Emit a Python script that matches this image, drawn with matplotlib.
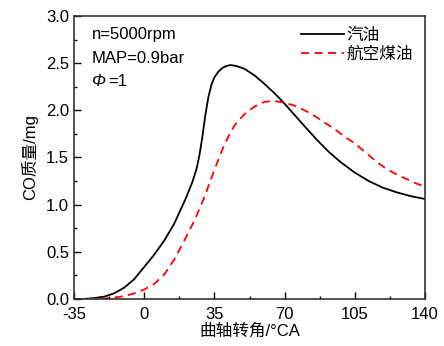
import matplotlib
matplotlib.use('Agg')
import matplotlib.pyplot as plt
from matplotlib.ticker import MultipleLocator, FormatStrFormatter

plt.rcParams['font.family'] = ['Liberation Sans', 'Noto Sans CJK SC']
plt.rcParams['axes.unicode_minus'] = False

# 曲轴转角 / CO质量
x_gas = [-35, -30, -25, -20, -15, -10, -5, 0, 5, 10, 15, 18, 21, 24, 26, 27.5, 29, 30.5,
         32, 33.5, 35, 37, 39, 41, 43, 46, 50, 55, 60, 65, 70, 75, 80, 86, 92, 98, 105,
         112, 119, 126, 133, 140]
y_gas = [0, 0.0, 0.01, 0.025, 0.06, 0.12, 0.21, 0.34, 0.47, 0.62, 0.8, 0.94, 1.08, 1.24,
         1.37, 1.52, 1.72, 1.95, 2.14, 2.27, 2.35, 2.41, 2.45, 2.47, 2.48, 2.47, 2.44, 2.37,
         2.28, 2.18, 2.07, 1.95, 1.83, 1.69, 1.56, 1.45, 1.34, 1.25, 1.18, 1.13, 1.09, 1.06]

x_kero = [-35, -30, -25, -20, -15, -10, -5, 0, 5, 10, 15, 20, 25, 30, 35, 40, 45, 50, 55,
          60, 65, 70, 75, 80, 85, 90, 95, 100, 105, 110, 115, 120, 125, 130, 135, 140]
y_kero = [0, 0.0, 0.0, 0.005, 0.015, 0.03, 0.06, 0.10, 0.16, 0.26, 0.42, 0.62, 0.83, 1.08,
          1.37, 1.64, 1.84, 1.96, 2.04, 2.09, 2.10, 2.08, 2.05, 2.00, 1.94, 1.87, 1.80, 1.72,
          1.65, 1.56, 1.47, 1.39, 1.33, 1.28, 1.23, 1.19]

labels = ['汽油', '航空煤油']
xticks = [-35, 0, 35, 70, 105, 140]

fig = plt.figure(figsize=(4.44, 3.46), dpi=100)
ax = fig.add_axes([0.1667, 0.1358, 0.7905, 0.818])

ax.plot(x_gas, y_gas, color='black', lw=1.3, label=labels[0])
ax.plot(x_kero, y_kero, color='red', lw=1.3, ls=(0, (4.5, 3)), label=labels[1])

ax.set_xlim(-35, 140)
ax.set_ylim(0, 3.0)
ax.set_xticks(xticks)
ax.xaxis.set_minor_locator(MultipleLocator(17.5))
ax.yaxis.set_major_locator(MultipleLocator(0.5))
ax.yaxis.set_minor_locator(MultipleLocator(0.25))
ax.yaxis.set_major_formatter(FormatStrFormatter('%.1f'))
ax.tick_params(which='both', direction='in', labelsize=12, width=1)
ax.tick_params(which='major', length=5)
ax.tick_params(axis='x', which='major', pad=6)
ax.tick_params(which='minor', length=2.5)
for s in ax.spines.values():
    s.set_linewidth(1.2)
    s.set_color('#333333')

ax.set_xlabel('曲轴转角/°CA', fontsize=12, labelpad=1)
ax.set_ylabel('CO质量/mg', fontsize=12, labelpad=6)

ax.text(0.05, 0.935, 'n=5000rpm', transform=ax.transAxes, fontsize=12, va='center')
ax.text(0.05, 0.85, 'MAP=0.9bar', transform=ax.transAxes, fontsize=12, va='center')
ax.text(0.05, 0.77, 'Φ', transform=ax.transAxes, fontsize=12, va='center', style='italic')
ax.annotate('=1', xy=(0.05, 0.77), xycoords='axes fraction', xytext=(12, 0),
            textcoords='offset points', fontsize=12, va='center')

ax.legend(loc='upper right', frameon=False, fontsize=12, handlelength=2.6,
          handletextpad=0.15, borderaxespad=0.3, labelspacing=0.2)

fig.savefig('out.png', dpi=100)
